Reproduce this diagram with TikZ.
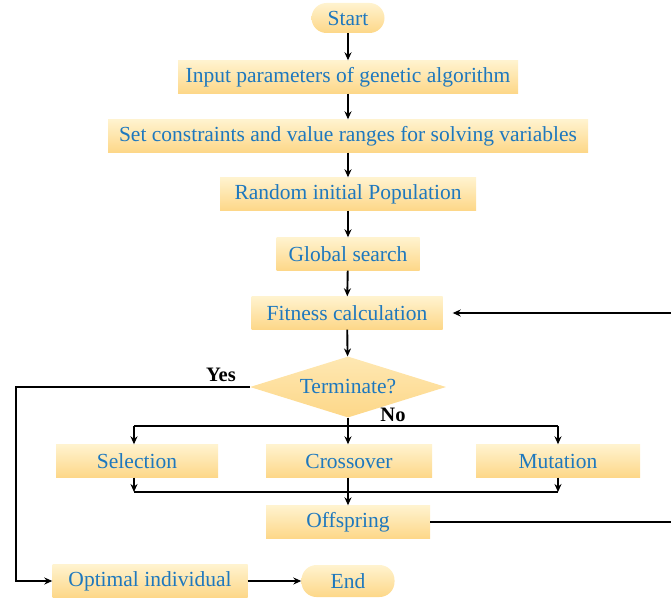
\documentclass[tikz,border=0pt]{standalone}
\usepackage{fontspec}
\setmainfont{Liberation Serif}
\usetikzlibrary{shapes.geometric,arrows.meta}
\definecolor{txt}{HTML}{1E78BE}
\definecolor{boxtop}{HTML}{FFF3CF}
\definecolor{boxbot}{HTML}{FDD788}
\begin{document}
\begin{tikzpicture}[x=1pt,y=-1pt,
  box/.style={rectangle, top color=boxtop, bottom color=boxbot, draw=none, text=txt,
    font=\fontsize{21.5}{24}\selectfont, minimum height=33pt, inner sep=0pt},
  term/.style={box, rounded corners=15pt},
  dec/.style={diamond, top color=boxtop!60!boxbot, bottom color=boxbot, draw=none, text=txt,
    font=\fontsize{21.5}{24}\selectfont, minimum width=196pt, minimum height=61pt, inner sep=0pt, aspect=3.2},
  arr/.style={-{Stealth[length=8pt,width=7pt]}, line width=1.9pt},
  ln/.style={line width=1.9pt},
  lbl/.style={font=\bfseries\fontsize{20.5}{22}\selectfont, text=black}
]
\useasboundingbox (0,0) rectangle (671,599);
\node[term, minimum width=73pt, minimum height=30pt] (start) at (348,18) {Start};
\node[box, minimum width=340pt] (input) at (348,77) {Input parameters of genetic algorithm};
\node[box, minimum width=480pt] (cons) at (348,136) {Set constraints and value ranges for solving variables};
\node[box, minimum width=256pt] (rand) at (348,194) {Random initial Population};
\node[box, minimum width=143pt] (glob) at (348,254) {Global search};
\node[box, minimum width=191pt] (fit) at (347,313) {Fitness calculation};
\node[dec] (term) at (348,387) {Terminate?};
\node[box, minimum width=162pt] (sel) at (137,461) {Selection};
\node[box, minimum width=166pt] (cro) at (349,461) {Crossover};
\node[box, minimum width=164pt] (mut) at (558,461) {Mutation};
\node[box, minimum width=164pt] (off) at (348,522) {Offspring};
\node[box, minimum width=195pt] (opt) at (150,581) {Optimal individual};
\node[term, minimum width=93pt, minimum height=32pt] (end) at (348,581) {End};

\draw[arr] (start) -- (input);
\draw[arr] (input) -- (cons);
\draw[arr] (cons) -- (rand);
\draw[arr] (rand) -- (glob);
\draw[arr] (glob) -- (fit);
\draw[arr] (fit) -- (term);

% No branch
\coordinate (nl) at (134,426);
\coordinate (nr) at (558,426);
\draw[ln] (term.south) -- (348,426);
\draw[ln] (nl) -- (nr);
\draw[arr] (nl) -- (nl |- sel.north);
\draw[arr] (348,426) -- (348,0 |- cro.north);
\draw[arr] (nr) -- (nr |- mut.north);
\node[lbl] (nolbl) at (393,415) {No};

% merge
\coordinate (ml) at (134,492);
\coordinate (mr) at (558,492);
\draw[arr] (ml |- sel.south) -- (ml);
\draw[arr] (mr |- mut.south) -- (mr);
\draw[ln] (ml) -- (mr);
\draw[arr] (348,0 |- cro.south) -- (348,0 |- off.north);

% feedback loop
\coordinate (fb) at (676,313);
\draw[ln] (off.east) -- (676,522) -- (fb);
\draw[arr] (fb) -- ([xshift=10pt]fit.east);

% Yes branch
\coordinate (yc) at (16,387);
\draw[arr] (term.west) -- (yc) |- (opt.west);
\node[lbl] (yeslbl) at (221,375) {Yes};

\draw[arr] (opt) -- (end);
\end{tikzpicture}
\end{document}
